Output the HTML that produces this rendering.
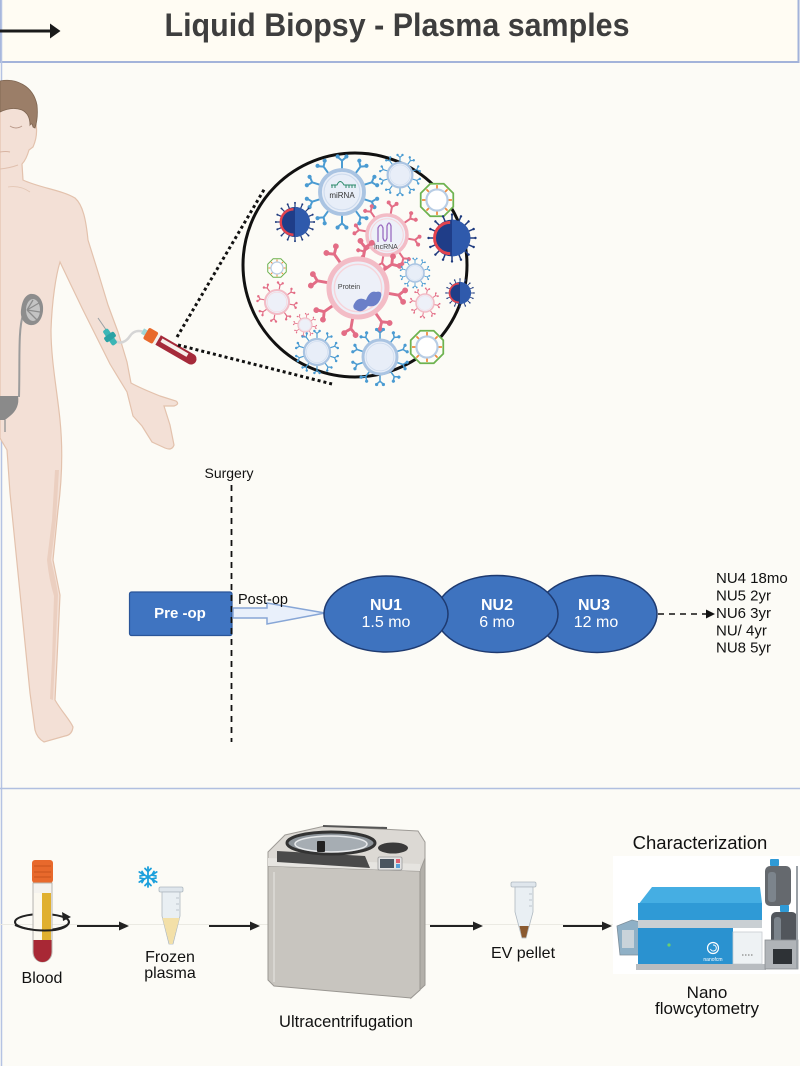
<!DOCTYPE html>
<html><head><meta charset="utf-8"><style>
html,body{margin:0;padding:0;background:#fcfbf6;}
svg{display:block;}
text{font-family:"Liberation Sans",Arial,sans-serif;}
</style></head><body>
<svg width="800" height="1066" viewBox="0 0 800 1066" xmlns="http://www.w3.org/2000/svg">
<defs>
  <g id="spB"><path d="M0,-21 V-28.5 M0,-28.5 L-3.5,-31.5 M0,-28.5 L3.5,-31.5" stroke="#4a9bd2" stroke-width="1.8" fill="none"/><circle cx="-4" cy="-32.3" r="1.9" fill="#4a9bd2"/><circle cx="4" cy="-32.3" r="1.9" fill="#4a9bd2"/></g>
  <g id="spP"><path d="M0,-21 V-28.5 M0,-28.5 L-3.5,-31.5 M0,-28.5 L3.5,-31.5" stroke="#e36d86" stroke-width="2" fill="none"/><circle cx="-4" cy="-32.3" r="2" fill="#e36d86"/><circle cx="4" cy="-32.3" r="2" fill="#e36d86"/></g>
  <g id="sd"><path d="M0,-19.5 V-25" stroke="#1e3a7e" stroke-width="1.6"/><circle cy="-25.5" r="1.3" fill="#1e3a7e"/></g>
  <g id="so"><path d="M0,-12 V-17" stroke="#f08a3c" stroke-width="2"/></g>
  <g id="vb">
    <use href="#spB"/><use href="#spB" transform="rotate(36)"/><use href="#spB" transform="rotate(72)"/><use href="#spB" transform="rotate(108)"/><use href="#spB" transform="rotate(144)"/><use href="#spB" transform="rotate(180)"/><use href="#spB" transform="rotate(216)"/><use href="#spB" transform="rotate(252)"/><use href="#spB" transform="rotate(288)"/><use href="#spB" transform="rotate(324)"/>
    <circle r="20" fill="#e8eef8" stroke="#aac4e2" stroke-width="3.5"/>
    <circle r="16.3" fill="none" stroke="#cfdcee" stroke-width="1"/>
  </g>
  <g id="vp">
    <use href="#spP" transform="rotate(10)"/><use href="#spP" transform="rotate(55)"/><use href="#spP" transform="rotate(100)"/><use href="#spP" transform="rotate(145)"/><use href="#spP" transform="rotate(190)"/><use href="#spP" transform="rotate(235)"/><use href="#spP" transform="rotate(280)"/><use href="#spP" transform="rotate(325)"/>
    <circle r="20" fill="#edf0f8" stroke="#f3bcc6" stroke-width="3.5"/>
    <circle r="16.3" fill="none" stroke="#f6d4da" stroke-width="1"/>
  </g>
  <g id="vd">
    <use href="#sd"/><use href="#sd" transform="rotate(22.5)"/><use href="#sd" transform="rotate(45)"/><use href="#sd" transform="rotate(67.5)"/><use href="#sd" transform="rotate(90)"/><use href="#sd" transform="rotate(112.5)"/><use href="#sd" transform="rotate(135)"/><use href="#sd" transform="rotate(157.5)"/><use href="#sd" transform="rotate(180)"/><use href="#sd" transform="rotate(202.5)"/><use href="#sd" transform="rotate(225)"/><use href="#sd" transform="rotate(247.5)"/><use href="#sd" transform="rotate(270)"/><use href="#sd" transform="rotate(292.5)"/><use href="#sd" transform="rotate(315)"/><use href="#sd" transform="rotate(337.5)"/>
    <circle r="20" fill="#1f3d88"/>
    <path d="M0,-20 A20,20 0 0,1 0,20 Z" fill="#2f5aac"/>
    <path d="M-2,-17 A17,17 0 0,0 -2,17" stroke="#e2434e" stroke-width="3.2" fill="none"/>
  </g>
  <g id="vg">
    <polygon points="18.5,7.7 7.7,18.5 -7.7,18.5 -18.5,7.7 -18.5,-7.7 -7.7,-18.5 7.7,-18.5 18.5,-7.7" fill="#fdfdf9" stroke="#6db24f" stroke-width="2"/>
    <use href="#so"/><use href="#so" transform="rotate(45)"/><use href="#so" transform="rotate(90)"/><use href="#so" transform="rotate(135)"/><use href="#so" transform="rotate(180)"/><use href="#so" transform="rotate(225)"/><use href="#so" transform="rotate(270)"/><use href="#so" transform="rotate(315)"/>
    <circle r="12" fill="#ffffff" stroke="#b8cde5" stroke-width="2.5"/>
  </g>
</defs>

<rect width="800" height="1066" fill="#fcfbf6"/>

<!-- Header -->
<rect x="1" y="-2" width="797.5" height="64" fill="#fffcf3" stroke="#a3b3da" stroke-width="2"/>
<line x1="1.5" y1="0" x2="1.5" y2="1066" stroke="#b5c3e3" stroke-width="1.5"/>
<line x1="0" y1="788.5" x2="800" y2="788.5" stroke="#b0bfe0" stroke-width="1.5"/>
<line x1="0" y1="31" x2="52" y2="31" stroke="#1a1a1a" stroke-width="3"/>
<polygon points="50,23.5 60.5,31 50,38.5" fill="#1a1a1a"/>
<text x="397" y="36" text-anchor="middle" font-weight="bold" font-size="32" fill="#3e3e3e" textLength="465" lengthAdjust="spacingAndGlyphs">Liquid Biopsy - Plasma samples</text>

<!-- Human figure -->
<path d="M0,100 C15,100 30,105 33,120 L36,124 Q38,136 33,147 L29,150 C27,157 25,161 22,164 L23,180 C40,188 62,190 75,198 C83,205 86,220 88,240 L98,272 L108,305 L118,332 L127,362 L131,383 C140,388 150,392 160,396 L176,401 Q180,404 174,406 L164,406 L170,425 L174,445 Q172,451 165,448 L152,442 L142,426 L133,416 L127,392 L110,364 L97,338 L83,310 L70,283 L60,262 C56,275 52,300 51,330 C51,360 57,390 60,420 C63,450 62,480 58,510 L53,560 Q58,585 60,595 L57,660 L55,700 C62,712 70,720 73,727 Q72,735 65,736 L44,742 Q37,738 35,730 L30,693 L20,593 L10,493 L7,450 L0,438 Z" fill="#f3e0d6" stroke="#e3c2ad" stroke-width="1.2"/>
<path d="M59,470 L56,520 L51,560 Q57,585 58,595 L55,660 L53,700 L50,699 L52,660 L54,596 Q49,580 47,560 L52,520 L55,470 Z" fill="#ebcfc0"/>
<path d="M0,169 Q10,168 18,165" stroke="#e0c0ae" stroke-width="1" fill="none"/>
<path d="M0,152 Q6,151 10,152" stroke="#d8b4a2" stroke-width="1" fill="none"/>
<path d="M10,126 Q16,130 22,126" stroke="#b89888" stroke-width="1" fill="none"/>
<path d="M8,187 Q20,185 30,192" stroke="#e3c6b4" stroke-width="0.8" fill="none"/>
<path d="M0,81 C15,78 33,85 37,105 C38,115 37,122 35,128 L33,127 Q32,122 30,125 C30,118 28,113 22,110 C14,107 6,109 0,112 Z" fill="#9b7e68" stroke="#7d6450" stroke-width="0.8"/>
<!-- kidney, ureter, bladder -->
<path d="M23,315 C18,330 20,360 19,397" stroke="#9c9c9c" stroke-width="2" fill="none"/>
<path d="M30,294 C40,293 44,303 43,311 C42,320 37,326 30,325 C24,324 20,318 21,310 C22,302 24,296 30,294 Z" fill="#8d8d8d"/>
<ellipse cx="33" cy="310" rx="7" ry="11" fill="#c4c4c4"/>
<path d="M27,310 L39,303 M27,310 L40,312 M27,310 L37,320 M27,310 L33,300" stroke="#8d8d8d" stroke-width="1.3"/>
<path d="M0,396 L18,396 Q20,408 10,416 L5,420 L0,420 Z" fill="#8a8a8a"/>
<line x1="5" y1="420" x2="5" y2="432" stroke="#9c9c9c" stroke-width="1.5"/>

<!-- needle + tube in arm -->
<line x1="98" y1="318" x2="109" y2="334" stroke="#9aa0a4" stroke-width="1"/>
<path d="M114,340 C120,345 126,342 130,336 C134,330 140,330 146,333" stroke="#d5d5d5" stroke-width="2.5" fill="none"/>
<g transform="translate(110,337) rotate(-35)">
  <rect x="-3" y="-9" width="6" height="18" rx="2" fill="#3bb6b6"/>
  <rect x="-6" y="-3" width="12" height="6" rx="2" fill="#2aa2a4"/>
</g>
<g transform="translate(146,333) rotate(30)">
  <rect x="-4" y="-3" width="5" height="6" fill="#9fd6d6"/>
  <rect x="0" y="-6.5" width="11" height="13" rx="2" fill="#e8692c"/>
  <rect x="11" y="-5.5" width="3" height="11" fill="#f4f1ee"/>
  <path d="M14,-5.5 H52 A5.5,5.5 0 0 1 52,5.5 H14 Z" fill="#a52a3a"/>
  <rect x="17" y="-3.5" width="30" height="4" fill="#f6eeea"/>
</g>

<!-- dotted zoom lines -->
<line x1="177" y1="337" x2="265" y2="188" stroke="#111" stroke-width="3" stroke-dasharray="3 3"/>
<line x1="178" y1="345" x2="332" y2="384" stroke="#111" stroke-width="3" stroke-dasharray="3 3"/>

<!-- Magnified circle -->
<circle cx="355" cy="265" r="112" fill="#fcfbf6" stroke="#111" stroke-width="3"/>
<use href="#vb" transform="translate(342,192) scale(1.1)"/>
<path d="M331,185 H337 Q340,178 344,185 H356 M332,185 V188 M335,185 V188 M346,185 V188 M349,185 V188 M352,185 V188 M355,185 V188" stroke="#2a8a6a" stroke-width="1" fill="none"/>
<text x="342" y="198" text-anchor="middle" font-size="8" fill="#333">miRNA</text>
<use href="#vb" transform="translate(400,175) scale(0.62)"/>
<use href="#vg" transform="translate(437,200) scale(0.88)"/>
<use href="#vd" transform="translate(295,222) scale(0.75)"/>
<use href="#vp" transform="translate(387,235) scale(1.0)"/>
<path d="M378,242 V228 Q381,222 383,228 V238 Q385,244 387,238 V226 Q389,220 391,226 V242" stroke="#9a6cc0" stroke-width="1.3" fill="none"/>
<text x="386" y="249" text-anchor="middle" font-size="7" fill="#444">lncRNA</text>
<use href="#vd" transform="translate(452,238) scale(0.92)"/>
<use href="#vp" transform="translate(358,288) scale(1.45)"/>
<text x="349" y="289" text-anchor="middle" font-size="7" fill="#444">Protein</text>
<path d="M354,304 Q358,296 366,300 Q370,290 376,292 Q384,290 380,300 Q376,308 368,306 Q362,314 356,310 Q352,308 354,304 Z" fill="#6a7fc8"/>
<use href="#vg" transform="translate(277,268) scale(0.5)"/>
<use href="#vp" transform="translate(277,302) scale(0.6)"/>
<use href="#vb" transform="translate(415,273) scale(0.45)"/>
<use href="#vd" transform="translate(460,293) scale(0.55)"/>
<use href="#vp" transform="translate(425,303) scale(0.45)"/>
<use href="#vp" transform="translate(305,325) scale(0.35)"/>
<use href="#vb" transform="translate(317,352) scale(0.65)"/>
<use href="#vb" transform="translate(380,357) scale(0.85)"/>
<use href="#vg" transform="translate(427,347) scale(0.88)"/>

<!-- Timeline -->
<text x="229" y="478" text-anchor="middle" font-size="14" fill="#111">Surgery</text>
<rect x="129.5" y="592" width="102.5" height="43.5" rx="2" fill="#3f74c1" stroke="#2a5599" stroke-width="1.2"/>
<text x="180" y="618" text-anchor="middle" font-size="15" font-weight="bold" fill="#fff">Pre -op</text>
<line x1="231.5" y1="485" x2="231.5" y2="742" stroke="#111" stroke-width="1.8" stroke-dasharray="6 5"/>
<polygon points="233,608 267,608 267,603 325,613 267,624 267,618 233,618" fill="#e9f0fb" stroke="#87a6d6" stroke-width="1.5"/>
<text x="238" y="604" font-size="14.5" fill="#111">Post-op</text>

<ellipse cx="597" cy="614" rx="60" ry="38.5" fill="#3e73bf" stroke="#1e3a70" stroke-width="1.5"/>
<ellipse cx="497" cy="614" rx="61" ry="38.5" fill="#3e73bf" stroke="#1e3a70" stroke-width="1.5"/>
<ellipse cx="386" cy="614" rx="62" ry="38" fill="#3e73bf" stroke="#1e3a70" stroke-width="1.5"/>
<text x="386" y="610" text-anchor="middle" font-size="16" font-weight="bold" fill="#fff">NU1</text>
<text x="386" y="627" text-anchor="middle" font-size="16" fill="#fff">1.5 mo</text>
<text x="497" y="610" text-anchor="middle" font-size="16" font-weight="bold" fill="#fff">NU2</text>
<text x="497" y="627" text-anchor="middle" font-size="16" fill="#fff">6 mo</text>
<text x="594" y="610" text-anchor="middle" font-size="16" font-weight="bold" fill="#fff">NU3</text>
<text x="596" y="627" text-anchor="middle" font-size="16" fill="#fff">12 mo</text>
<line x1="658" y1="614" x2="707" y2="614" stroke="#111" stroke-width="1.5" stroke-dasharray="6 5"/>
<polygon points="706,609.5 715,614 706,618.5" fill="#111"/>
<g font-size="15" fill="#111">
<text x="716" y="583">NU4 18mo</text>
<text x="716" y="600.5">NU5 2yr</text>
<text x="716" y="618">NU6 3yr</text>
<text x="716" y="635.5">NU/ 4yr</text>
<text x="716" y="652.5">NU8 5yr</text>
</g>

<!-- Bottom workflow -->
<line x1="0" y1="924.5" x2="800" y2="924.5" stroke="#ebeae3" stroke-width="1"/>
<!-- blood tube -->
<ellipse cx="42" cy="922" rx="27" ry="8" fill="none" stroke="#222" stroke-width="2"/>
<rect x="32" y="860" width="21" height="23" rx="3" fill="#e8692c"/>
<path d="M34,866 H51 M34,872 H51 M34,877 H51" stroke="#c9531c" stroke-width="1"/>
<path d="M33,883 H52 V952 A9.5,10 0 0 1 33,952 Z" fill="#f4f2ee" stroke="#b9b6b0" stroke-width="1"/>
<rect x="42" y="893" width="9" height="48" fill="#e0b030"/>
<rect x="34" y="893" width="8" height="48" fill="#fbf8ef"/>
<path d="M33.5,940 H51.5 V952 A9,10 0 0 1 33.5,952 Z" fill="#a82835"/>
<path d="M15,925 Q30,932 55,930 Q68,928 69,922" fill="none" stroke="#222" stroke-width="2"/>
<polygon points="62,912 71,917 63,921" fill="#222"/>
<text x="42" y="983" text-anchor="middle" font-size="16" fill="#111">Blood</text>
<!-- arrow 1 -->
<line x1="77" y1="926" x2="121" y2="926" stroke="#222" stroke-width="2"/>
<polygon points="119,921.5 129,926 119,930.5" fill="#222"/>
<!-- snowflake -->
<g stroke="#1ba0dc" stroke-width="1.8" stroke-linecap="round" fill="none">
<path d="M148,867 V887 M139.3,872 L156.7,882 M139.3,882 L156.7,872"/>
<path d="M145,868.5 L148,871.5 L151,868.5 M145,885.5 L148,882.5 L151,885.5 M140,876 L144,875 L142,871.5 M156,878 L152,879 L154,882.5 M140,878 L144,879 L142,882.5 M156,876 L152,875 L154,871.5"/>
</g>
<!-- frozen plasma tube -->
<rect x="159" y="887" width="24" height="5" rx="1.5" fill="#dfe6ec" stroke="#aeb8c0" stroke-width="0.8"/>
<path d="M162,892 H180 V916 L173,944 H169 L162,916 Z" fill="#e9eff3" stroke="#aeb8c0" stroke-width="0.8"/>
<path d="M162.5,918 H179.5 L172.5,944 H169.5 Z" fill="#f3e0a8"/>
<path d="M176,898 H179 M176,904 H179 M176,910 H179" stroke="#aeb8c0" stroke-width="0.8"/>
<text x="170" y="962" text-anchor="middle" font-size="16" fill="#111">Frozen</text>
<text x="170" y="978" text-anchor="middle" font-size="16" fill="#111">plasma</text>
<!-- arrow 2 -->
<line x1="209" y1="926" x2="252" y2="926" stroke="#222" stroke-width="2"/>
<polygon points="250,921.5 260,926 250,930.5" fill="#222"/>
<!-- centrifuge -->
<polygon points="420,870 425,858 425,985 411,998" fill="#b3b0aa" stroke="#9a9792" stroke-width="1"/>
<polygon points="268,866 420,871 420,990 411,998 274,986 268,980" fill="#c8c5bf" stroke="#9a9792" stroke-width="1"/>
<line x1="274" y1="872" x2="274" y2="982" stroke="#d8d6d1" stroke-width="2"/>
<polygon points="268,852 285,835 325,826 418,831 425,842 425,858 420,871 268,866" fill="#dcd9d4" stroke="#9e9b96" stroke-width="1"/>
<polygon points="268,858 420,864 420,871 268,866" fill="#e6e4e0"/>
<polygon points="277,851 365,856 370,868 277,862" fill="#4a4a4a"/>
<line x1="323" y1="826" x2="387" y2="828" stroke="#555" stroke-width="2"/>
<ellipse cx="331" cy="843" rx="44" ry="11" fill="#8e959b" stroke="#333" stroke-width="3"/>
<ellipse cx="331" cy="844" rx="36" ry="8" fill="#a6adb3" stroke="#e8eaec" stroke-width="1.5"/>
<rect x="317" y="841" width="8" height="11" rx="1" fill="#222"/>
<ellipse cx="393" cy="848" rx="15" ry="5.5" fill="#3a3a3a"/>
<rect x="378" y="857" width="24" height="13" rx="1.5" fill="#e3e3e3" stroke="#999" stroke-width="0.8"/>
<rect x="380" y="859" width="14" height="9" fill="#4a5560"/>
<rect x="396" y="859" width="4" height="4" fill="#e06070"/>
<rect x="396" y="864" width="4" height="4" fill="#5aa0d8"/>
<text x="346" y="1027" text-anchor="middle" font-size="16.5" fill="#111">Ultracentrifugation</text>
<!-- arrow 3 -->
<line x1="430" y1="926" x2="475" y2="926" stroke="#222" stroke-width="2"/>
<polygon points="473,921.5 483,926 473,930.5" fill="#222"/>
<!-- EV pellet tube -->
<rect x="511" y="882" width="25" height="5" rx="1.5" fill="#dfe6ec" stroke="#aeb8c0" stroke-width="0.8"/>
<path d="M515,887 H533 V912 L526,938 H522 L515,912 Z" fill="#e9eff3" stroke="#aeb8c0" stroke-width="0.8"/>
<path d="M519.5,926 H528.7 L526,937.5 H522 Z" fill="#8a5a30"/>
<path d="M529,894 H532 M529,900 H532 M529,906 H532" stroke="#aeb8c0" stroke-width="0.8"/>
<text x="523" y="958" text-anchor="middle" font-size="16" fill="#111">EV pellet</text>
<!-- arrow 4 -->
<line x1="563" y1="926" x2="604" y2="926" stroke="#222" stroke-width="2"/>
<polygon points="602,921.5 612,926 602,930.5" fill="#222"/>
<!-- Characterization -->
<text x="700" y="849" text-anchor="middle" font-size="18.5" fill="#111">Characterization</text>
<rect x="613" y="856" width="187" height="118" fill="#ffffff"/>
<polygon points="617,926 632,920 640,922 640,955 620,955" fill="#8fb0c6" stroke="#7d8e9a" stroke-width="0.8"/>
<rect x="622" y="930" width="12" height="18" fill="#c9d3da"/>
<polygon points="638,905 652,887 760,887 762,903" fill="#45aee3"/>
<rect x="638" y="903" width="124" height="17" fill="#2f9ad6"/>
<rect x="638" y="920" width="124" height="8" fill="#c9cfd3"/>
<rect x="638" y="928" width="95" height="38" fill="#2a92d0"/>
<rect x="733" y="932" width="29" height="32" fill="#eef2f4" stroke="#c8ccd0" stroke-width="0.8"/>
<path d="M742,955 H754" stroke="#999" stroke-width="1.5" stroke-dasharray="1.5 1.5"/>
<rect x="636" y="964" width="130" height="6" fill="#b8bcc0"/>
<circle cx="669" cy="945" r="1.6" fill="#6ccf6c"/>
<circle cx="713" cy="948" r="5.5" fill="none" stroke="#fff" stroke-width="1.2"/>
<path d="M713,945 A3,3 0 1 1 710.5,949" fill="none" stroke="#fff" stroke-width="1"/>
<text x="713" y="961" text-anchor="middle" font-size="5" fill="#fff">nanofcm</text>
<rect x="765" y="866" width="26" height="40" rx="5" fill="#4a4f55" opacity="0.85"/>
<rect x="768" y="872" width="8" height="30" rx="3" fill="#7c848c"/>
<rect x="770" y="859" width="9" height="7" rx="1" fill="#2f9ad6"/>
<rect x="771" y="912" width="26" height="34" rx="5" fill="#3f444a" opacity="0.9"/>
<rect x="774" y="917" width="7" height="25" rx="3" fill="#7c848c"/>
<rect x="780" y="905" width="9" height="7" rx="1" fill="#2f9ad6"/>
<rect x="765" y="940" width="33" height="29" fill="#b0b4b8" stroke="#8a8e92" stroke-width="0.8"/>
<rect x="773" y="949" width="19" height="15" fill="#2e3236"/>
<line x1="797" y1="866" x2="797" y2="969" stroke="#9aa0a6" stroke-width="2"/>
<text x="707" y="998" text-anchor="middle" font-size="17" fill="#111">Nano</text>
<text x="707" y="1014" text-anchor="middle" font-size="17" fill="#111">flowcytometry</text>
</svg>
</body></html>
